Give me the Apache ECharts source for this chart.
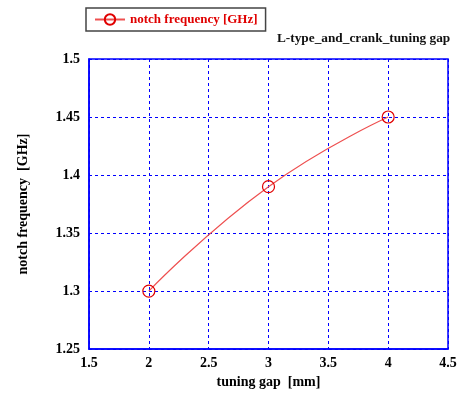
<!DOCTYPE html>
<html>
<head>
<meta charset="utf-8">
<script src="https://cdn.jsdelivr.net/npm/echarts@6/dist/echarts.min.js"></script>
<style>
html,body{margin:0;padding:0;background:#fff}
#main{width:460px;height:394px}
</style>
</head>
<body>
<div id="main"></div>
<script>
// data
var gap=[2,3,4]
var freq=[1.3,1.39,1.45]
var seriesName='notch frequency [GHz]'

var serif='"Liberation Serif","DejaVu Serif",serif'

function drawChar(){
    var myChart=echarts.init(document.getElementById('main'))
    var pts=[]
    $each(gap,function(i,g){pts.push([g,freq[i]])})
    var option={
        animation:false,
        grid:{left:89,right:12,top:59,bottom:44,show:true,borderColor:'#0000ff',borderWidth:1.5},
        title:{
            text:'L-type_and_crank_tuning gap',
            left:272,top:27,
            textStyle:{fontFamily:serif,fontSize:13.3,fontWeight:'bold',color:'#111'}
        },
        legend:{
            left:86,top:8,width:179,height:26,
            padding:[5,8,5,8],
            borderColor:'#444',borderWidth:1.5,borderRadius:0,
            itemWidth:30,itemHeight:13,
            textStyle:{fontFamily:serif,fontSize:13,fontWeight:'bold',color:'#e00000'},
            data:[seriesName]
        },
        xAxis:{
            type:'value',min:1.5,max:4.5,interval:0.5,
            name:'tuning gap  [mm]',nameLocation:'middle',nameGap:23,
            nameTextStyle:{fontFamily:serif,fontSize:14,fontWeight:'bold',color:'#000'},
            axisLine:{show:true,lineStyle:{color:'#0000ff',width:1.5}},
            axisTick:{show:false},
            axisLabel:{fontFamily:serif,fontSize:14,fontWeight:'bold',color:'#000',margin:7},
            splitLine:{show:true,lineStyle:{color:'#0000ff',type:[3,3],width:1}}
        },
        yAxis:{
            type:'value',min:1.25,max:1.5,interval:0.05,
            name:'notch frequency  [GHz]',nameLocation:'middle',nameGap:59,
            nameTextStyle:{fontFamily:serif,fontSize:14,fontWeight:'bold',color:'#000'},
            axisLine:{show:true,lineStyle:{color:'#0000ff',width:1.5}},
            axisTick:{show:false},
            axisLabel:{fontFamily:serif,fontSize:14,fontWeight:'bold',color:'#000',margin:9,
                formatter:function(v){return String(Math.round(v*100)/100)}},
            splitLine:{show:true,lineStyle:{color:'#0000ff',type:[3,3],width:1}}
        },
        series:[{
            name:seriesName,
            type:'line',
            smooth:0.5,
            data:pts,
            symbol:'circle',
            symbolSize:12,
            lineStyle:{color:'#ee5050',width:1.2},
            itemStyle:{color:'rgba(0,0,0,0)',borderColor:'#e00000',borderWidth:1.2}
        }]
    }
    myChart.setOption(option)
}

function $each(arr,fn){for(var i=0;i<arr.length;i++)fn(i,arr[i])}

drawChar()
</script>
</body>
</html>
